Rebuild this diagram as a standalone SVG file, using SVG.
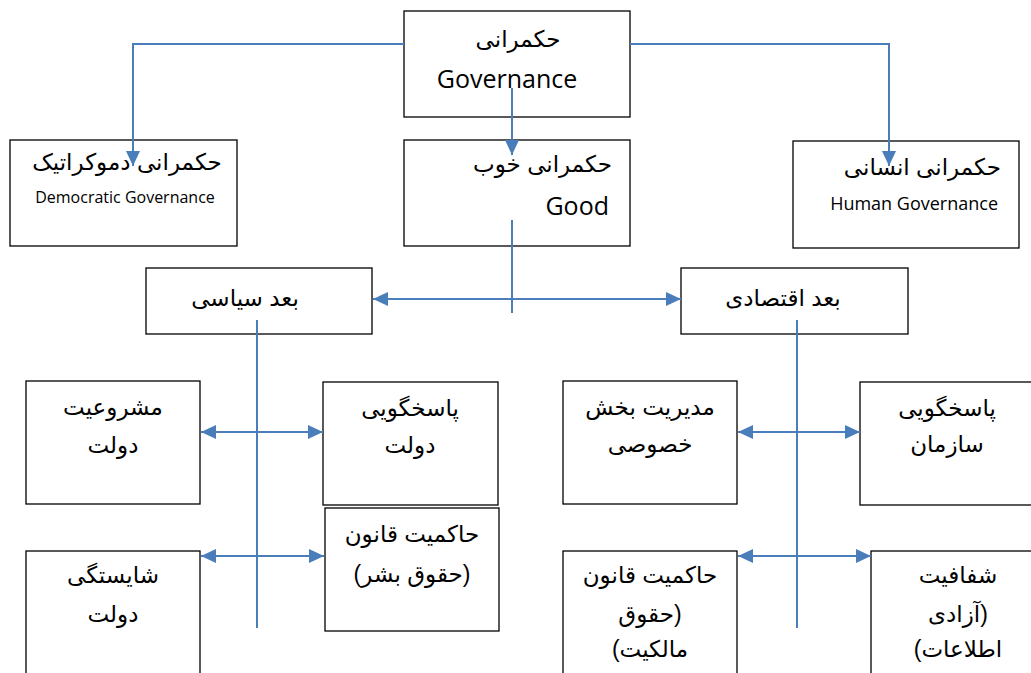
<svg xmlns="http://www.w3.org/2000/svg" width="1031" height="673" viewBox="0 0 1031 673">
<style>
.box{fill:#fff;stroke:#000;stroke-width:1.3}
.fa{font-family:"Liberation Sans","DejaVu Sans",sans-serif;font-size:23px;fill:#000}
.en{font-family:"Open Sans","Liberation Sans",sans-serif;fill:#000}
.c{stroke:#4A7EBB;stroke-width:2;fill:none}
.ca{stroke:#4A7EBB;stroke-width:2;fill:none;marker-end:url(#ah)}
.cd{stroke:#4A7EBB;stroke-width:2;fill:none;marker-start:url(#ah);marker-end:url(#ah)}
</style>
<defs>
<marker id="ah" markerUnits="userSpaceOnUse" markerWidth="15" markerHeight="14" viewBox="0 0 15 14" refX="15" refY="7" orient="auto-start-reverse">
<path d="M0,0 L15,7 L0,14 z" fill="#4A7EBB"/>
</marker>
</defs>
<rect width="1031" height="673" fill="#fff"/>

<g id="n-governance">
<rect class="box" x="404" y="11" width="226" height="106"/>
<text class="fa" x="518" y="47" text-anchor="middle">حکمرانی</text>
<text class="en" x="507" y="88" font-size="25" text-anchor="middle">Governance</text>
</g>
<g id="n-democratic">
<rect class="box" x="10" y="140" width="227" height="106"/>
<text class="fa" x="127" y="170" text-anchor="middle">حکمرانی دموکراتیک</text>
<text class="en" x="125" y="203" font-size="16" text-anchor="middle">Democratic Governance</text>
</g>
<g id="n-good">
<rect class="box" x="404" y="140" width="226" height="106"/>
<text class="fa" x="612" y="172" text-anchor="end">حکمرانی خوب</text>
<text class="en" x="609" y="215" font-size="25" text-anchor="end">Good</text>
</g>
<g id="n-human">
<rect class="box" x="793" y="141" width="226" height="107"/>
<text class="fa" x="1001" y="175" text-anchor="end">حکمرانی انسانی</text>
<text class="en" x="998" y="210" font-size="18" text-anchor="end">Human Governance</text>
</g>
<g id="n-political">
<rect class="box" x="146" y="268" width="226" height="66"/>
<text class="fa" x="245" y="306" text-anchor="middle">بعد سیاسی</text>
</g>
<g id="n-economic">
<rect class="box" x="681" y="268" width="227" height="66"/>
<text class="fa" x="783" y="306" text-anchor="middle">بعد اقتصادی</text>
</g>
<g id="n-legitimacy">
<rect class="box" x="26" y="381" width="174" height="123"/>
<text class="fa" x="113" y="415" text-anchor="middle">مشروعیت</text>
<text class="fa" x="113" y="453" text-anchor="middle">دولت</text>
</g>
<g id="n-gov-accountability">
<rect class="box" x="323" y="382" width="175" height="123"/>
<text class="fa" x="410" y="416" text-anchor="middle">پاسخگویی</text>
<text class="fa" x="410" y="453" text-anchor="middle">دولت</text>
</g>
<g id="n-rule-law-hr">
<rect class="box" x="325" y="508" width="174" height="123"/>
<text class="fa" x="412" y="542" text-anchor="middle">حاکمیت قانون</text>
<text class="fa" x="412" y="582" text-anchor="middle">(حقوق بشر)</text>
</g>
<g id="n-competence">
<rect class="box" x="26" y="551" width="174" height="140"/>
<text class="fa" x="113" y="583" text-anchor="middle">شایستگی</text>
<text class="fa" x="113" y="622" text-anchor="middle">دولت</text>
</g>
<g id="n-private-sector">
<rect class="box" x="563" y="381" width="174" height="123"/>
<text class="fa" x="650" y="415" text-anchor="middle">مدیریت بخش</text>
<text class="fa" x="650" y="452" text-anchor="middle">خصوصی</text>
</g>
<g id="n-org-accountability">
<rect class="box" x="860" y="382" width="190" height="123"/>
<text class="fa" x="947" y="416" text-anchor="middle">پاسخگویی</text>
<text class="fa" x="947" y="452" text-anchor="middle">سازمان</text>
</g>
<g id="n-rule-law-property">
<rect class="box" x="563" y="551" width="174" height="140"/>
<text class="fa" x="650" y="583" text-anchor="middle">حاکمیت قانون</text>
<text class="fa" x="650" y="622" text-anchor="middle">حقوق)</text>
<text class="fa" x="650" y="657" text-anchor="middle">(مالکیت</text>
</g>
<g id="n-transparency">
<rect class="box" x="871" y="551" width="180" height="140"/>
<text class="fa" x="958" y="583" text-anchor="middle">شفافیت</text>
<text class="fa" x="958" y="622" text-anchor="middle">آزادی)</text>
<text class="fa" x="958" y="657" text-anchor="middle">(اطلاعات</text>
</g>

<g id="connectors">
<path class="ca" d="M404,44 H133 V166"/>
<path class="ca" d="M630,44 H889 V166"/>
<path class="ca" d="M512,88 V155"/>
<path class="c" d="M512,220 V313"/>
<path class="cd" d="M373,299 H681"/>
<path class="c" d="M257,320 V628"/>
<path class="c" d="M797,320 V628"/>
<path class="cd" d="M201,432 H323"/>
<path class="cd" d="M201,556 H324"/>
<path class="cd" d="M738,432 H860"/>
<path class="cd" d="M738,556 H871"/>
</g>
</svg>
